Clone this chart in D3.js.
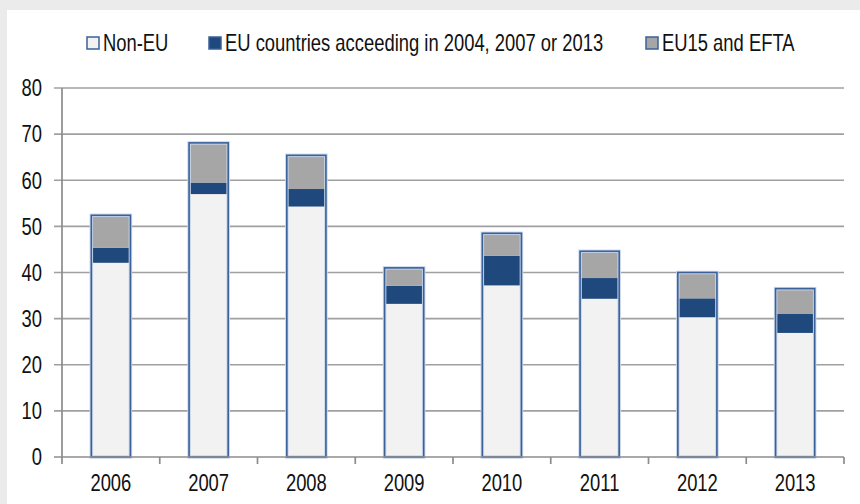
<!DOCTYPE html>
<html>
<head>
<meta charset="utf-8">
<script src="https://cdn.jsdelivr.net/npm/d3@7/dist/d3.min.js"></script>
<style>
  html, body { margin: 0; padding: 0; background: #ebebeb; }
  svg { display: block; }
  text { font-family: "Liberation Sans", Arial, sans-serif; fill: #111; }
</style>
</head>
<body>
<svg id="chart" width="860" height="504"></svg>
<script>
// Years on the category axis
const years = ["2006", "2007", "2008", "2009", "2010", "2011", "2012", "2013"];
// Series values (stacked bottom to top)
const nonEU = [42.1, 57.0, 54.3, 33.2, 37.2, 34.3, 30.3, 26.9];
const newEU = [3.3, 2.5, 3.8, 3.9, 6.4, 4.5, 4.1, 4.1];
const eu15EFTA = [7.0, 8.6, 7.3, 3.9, 4.9, 5.8, 5.6, 5.5];
const seriesNames = ["Non-EU", "EU countries acceeding in 2004, 2007 or 2013", "EU15 and EFTA"];
const yTicks = [0, 10, 20, 30, 40, 50, 60, 70, 80];

const colors = ["#f2f2f2", "#1f497d", "#a6a6a6"];
const outline = "#3a6199";
const FONT = 23, SQUEEZE = 0.8; // condensed lettering

const svg = d3.select("#chart");

// Condensed text helper
function label(g, xPos, yPos, str, anchor, dy) {
  return g.append("text")
    .attr("transform", `translate(${xPos},${yPos}) scale(${SQUEEZE},1)`)
    .attr("text-anchor", anchor).attr("dy", dy || 0)
    .attr("font-size", FONT).text(str);
}

// White chart panel
svg.append("rect").attr("x", 7).attr("y", 10).attr("width", 853).attr("height", 494).attr("fill", "#ffffff");

const x = d3.scaleBand().domain(years).range([62, 844]).paddingInner(0.6).paddingOuter(0.3);
const y = d3.scaleLinear().domain([0, 80]).range([457, 88]);

// Gridlines with left tick extensions
svg.append("g").selectAll("line").data(yTicks.filter(d => d > 0)).join("line")
  .attr("x1", 54).attr("x2", 844)
  .attr("y1", d => y(d)).attr("y2", d => y(d))
  .attr("stroke", "#a0a0a0").attr("stroke-width", 1.7);

// Y axis labels
const yLab = svg.append("g");
yTicks.forEach(t => label(yLab, 42, y(t), t, "end", "0.36em"));

// Stacked bars
const rows = years.map((yr, i) => ({ year: yr, a: nonEU[i], b: newEU[i], c: eu15EFTA[i] }));
const stack = d3.stack().keys(["a", "b", "c"])(rows);

const bars = svg.append("g");
stack.forEach((layer, li) => {
  bars.append("g").selectAll("rect").data(layer).join("rect")
    .attr("x", d => x(d.data.year))
    .attr("width", x.bandwidth())
    .attr("y", d => y(d[1]))
    .attr("height", d => y(d[0]) - y(d[1]))
    .attr("fill", colors[li]);
});
// Soft halo and outline around each whole bar
const totals = rows.map(r => ({ year: r.year, total: r.a + r.b + r.c }));
bars.append("g").selectAll("rect").data(totals).join("rect")
  .attr("x", d => x(d.year)).attr("width", x.bandwidth())
  .attr("y", d => y(d.total)).attr("height", d => y(0) - y(d.total))
  .attr("fill", "none").attr("stroke", "#c9d6ea").attr("stroke-width", 3.5);
bars.append("g").selectAll("rect").data(totals).join("rect")
  .attr("x", d => x(d.year)).attr("width", x.bandwidth())
  .attr("y", d => y(d.total)).attr("height", d => y(0) - y(d.total))
  .attr("fill", "none").attr("stroke", outline).attr("stroke-width", 1.6);

// Axis lines
svg.append("line").attr("x1", 62).attr("x2", 62).attr("y1", y(80)).attr("y2", y(0))
  .attr("stroke", "#8c8c8c").attr("stroke-width", 1.7);
svg.append("line").attr("x1", 54).attr("x2", 844).attr("y1", y(0)).attr("y2", y(0))
  .attr("stroke", "#8c8c8c").attr("stroke-width", 1.7);

// Category boundary ticks below the x axis
const bounds = years.map(d => x(d) - x.step() * 0.3).concat([844]);
svg.append("g").selectAll("line").data(bounds).join("line")
  .attr("x1", d => d).attr("x2", d => d)
  .attr("y1", y(0)).attr("y2", y(0) + 7)
  .attr("stroke", "#8c8c8c").attr("stroke-width", 1.7);

// X axis labels
const xLab = svg.append("g");
years.forEach(yr => label(xLab, x(yr) + x.bandwidth() / 2, 491, yr, "middle"));

// Legend
const legendX = [87, 209, 646];
const legend = svg.append("g");
seriesNames.forEach((name, i) => {
  legend.append("rect").attr("x", legendX[i]).attr("y", 37).attr("width", 12).attr("height", 12)
    .attr("fill", colors[i]).attr("stroke", outline).attr("stroke-width", 1.5);
  label(legend, legendX[i] + 16, 51, name, "start");
});
</script>
</body>
</html>
